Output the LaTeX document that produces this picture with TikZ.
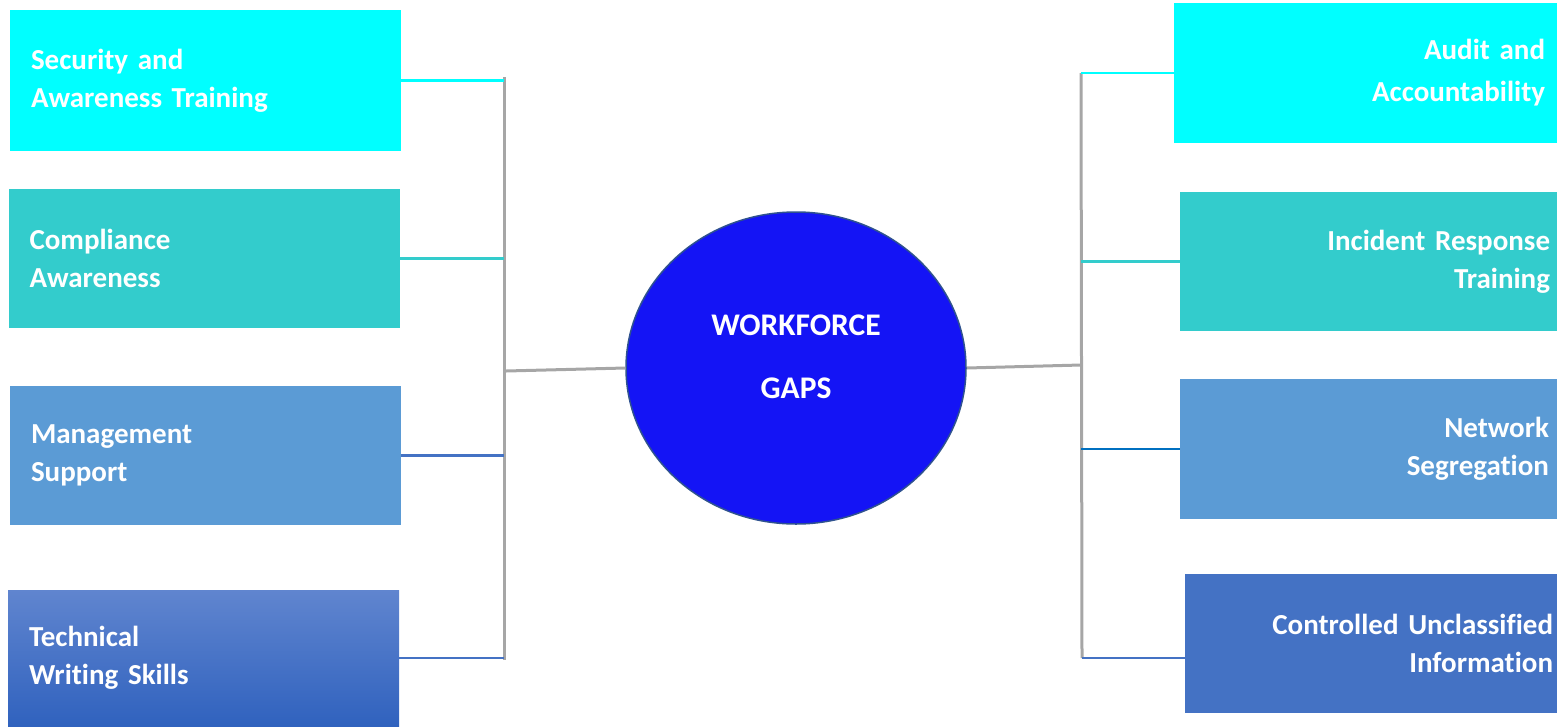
\documentclass[tikz,border=0pt]{standalone}
\usepackage{fontspec}
\setmainfont{Carlito}[Ligatures={NoCommon}]
\usetikzlibrary{shapes.geometric}
\definecolor{bcyan}{HTML}{00FFFF}
\definecolor{bteal}{HTML}{33CCCC}
\definecolor{bsky}{HTML}{5B9BD5}
\definecolor{bblue}{HTML}{4472C4}
\definecolor{lblue}{HTML}{0070C0}
\definecolor{gradtop}{HTML}{6085CF}
\definecolor{gradbot}{HTML}{3062BE}
\definecolor{hubfill}{HTML}{1414F5}
\definecolor{hubline}{HTML}{2F528F}
\definecolor{barcol}{HTML}{A6A6A6}
\begin{document}
\begin{tikzpicture}[x=1pt,y=-1pt,
  box/.style={rectangle, inner ysep=0pt, text=white,
    font=\fontsize{29}{38}\selectfont\bfseries},
  lbox/.style={box, align=left, inner xsep=21pt, text width=349pt, minimum width=391pt},
  rbox/.style={box, align=right},
  bar/.style={draw=barcol, line width=3pt},
  link/.style={line width=2.8pt}]
\useasboundingbox (0,0) rectangle (1557,726);

% left column
\node[lbox, fill=bcyan, minimum height=141pt] (sec) at (205.5,80.5) {Security and\\Awareness Training};
\node[lbox, fill=bteal, minimum height=139pt, minimum width=390pt] (comp) at (204,258.5) {Compliance\\Awareness};
\node[lbox, fill=bsky, minimum height=139pt] (mgmt) at (205.5,455.5) {Management\\Support};
\node[lbox, top color=gradtop, bottom color=gradbot, minimum height=136pt] (tech) at (203.5,658) {Technical\\Writing Skills};

% right column
\node[rbox, fill=bcyan, inner xsep=12pt, text width=359pt, minimum width=383pt, minimum height=140pt,
  font=\fontsize{29}{42}\selectfont\bfseries] (audit) at (1365.5,73) {Audit and\\Accountability};
\node[rbox, fill=bteal, inner xsep=7pt, text width=363pt, minimum width=377pt, minimum height=139pt] (inc) at (1368.5,261.5) {Incident Response\\Training};
\node[rbox, fill=bsky, inner xsep=8pt, text width=361pt, minimum width=377pt, minimum height=140pt] (net) at (1368.5,449) {Network\\Segregation};
\node[rbox, fill=bblue, inner xsep=4pt, text width=364pt, minimum width=372pt, minimum height=139pt] (ctrl) at (1371,643.5) {Controlled Unclassified\\Information};

% central ellipse
\node[ellipse, fill=hubfill, draw=hubline, line width=1.5pt, minimum width=340pt, minimum height=312pt, inner sep=0pt] (hub) at (796,368) {};
\node[text=white, align=center, font=\fontsize{31.5}{63}\selectfont\bfseries] (hubtext) at (796,357) {WORKFORCE\\GAPS};

% left bracket
\coordinate (lt) at (504,77);
\coordinate (lb) at (504,660);
\coordinate (lmid) at (506,371);
\draw[bar] (lt) -- (lb);
\draw[bar] (lmid) -- (hub.west);
\draw[link, draw=bcyan] (sec.east) -- (sec.east -| lt);
\draw[link, draw=bteal] (comp.east) -- (comp.east -| lt);
\draw[link, draw=bblue] (mgmt.east) -- (mgmt.east -| lt);
\draw[link, draw=bblue] (tech.east) -- (tech.east -| lt);

% right bracket
\coordinate (rt) at (1081,73);
\coordinate (rb) at (1082,658);
\coordinate (rmid) at (1081,365);
\draw[bar] (rt) -- (rb);
\draw[bar] (hub.east) -- (rmid);
\draw[link, draw=bcyan] (audit.west) -- (audit.west -| rt);
\draw[link, draw=bteal] (inc.west) -- (inc.west -| rt);
\draw[link, draw=lblue] (net.west) -- (net.west -| rt);
\draw[link, draw=bblue] (rb) -- (ctrl.west |- rb);
\end{tikzpicture}
\end{document}
